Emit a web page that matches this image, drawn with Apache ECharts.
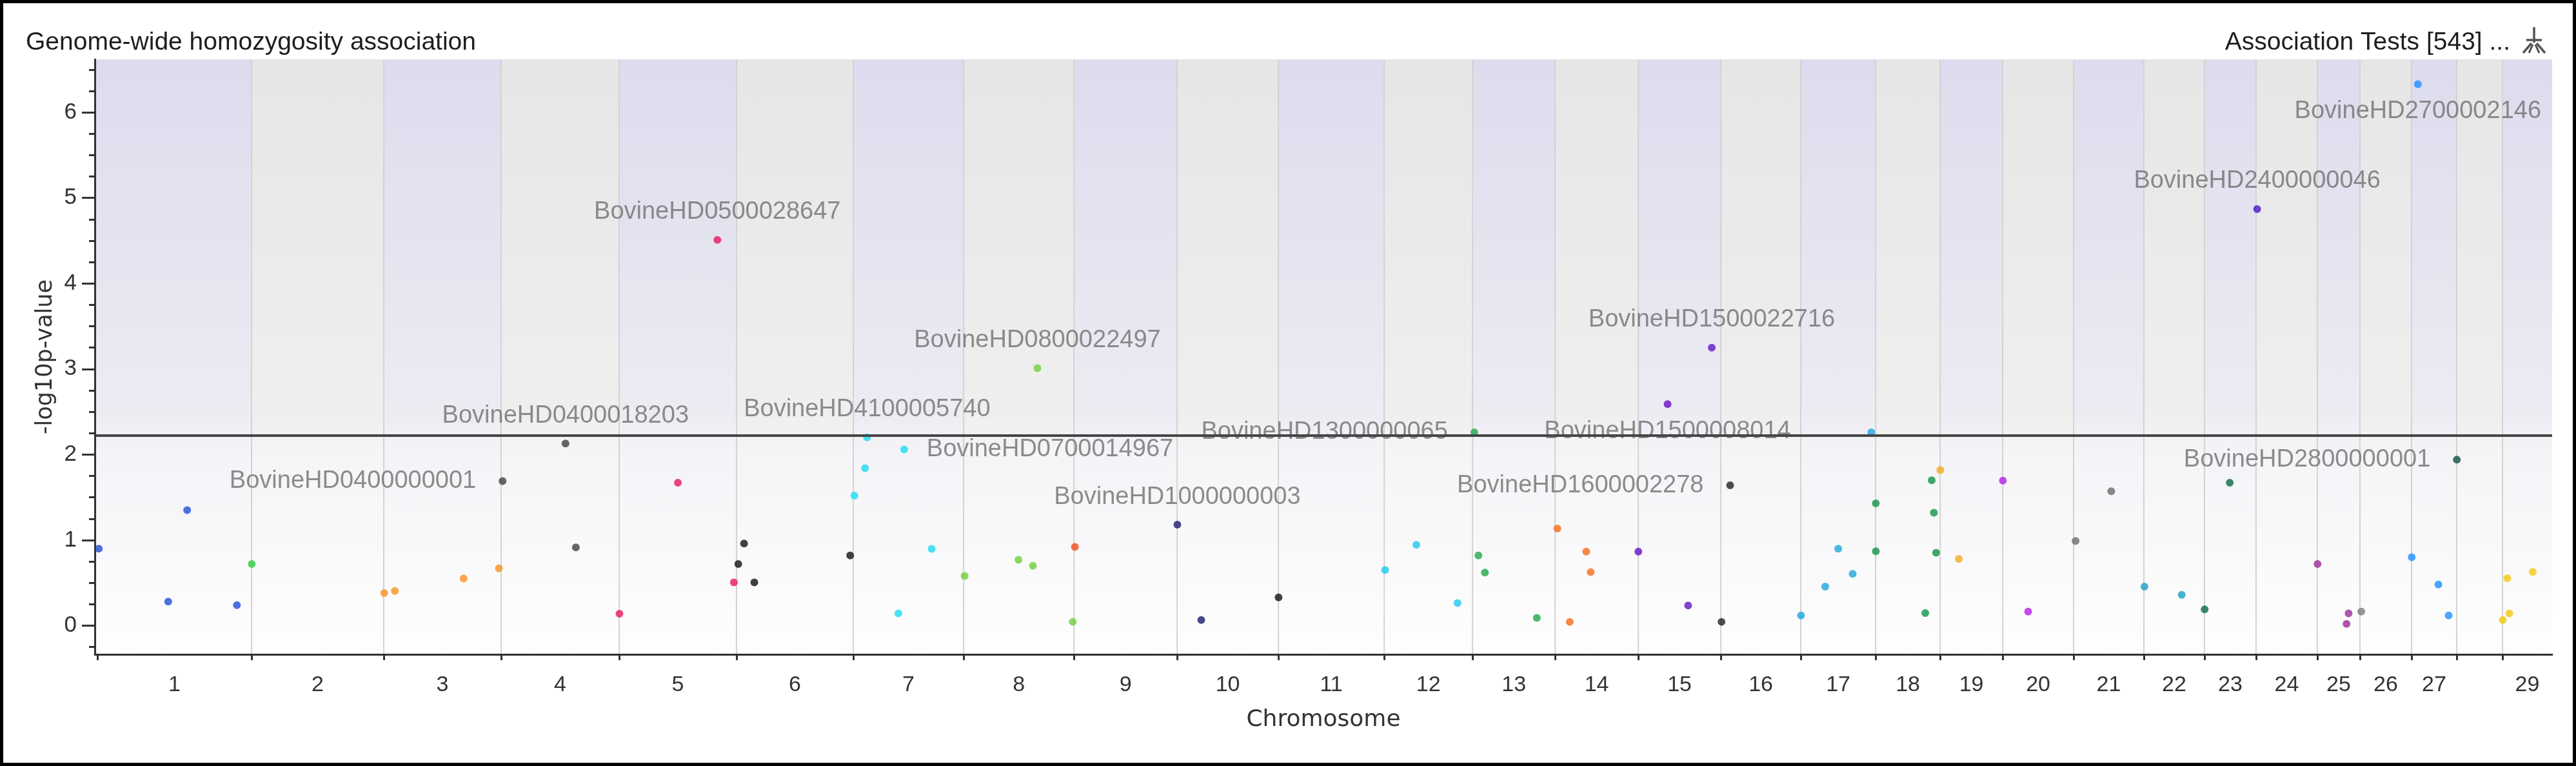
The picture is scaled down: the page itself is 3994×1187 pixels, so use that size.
<!DOCTYPE html>
<html>
<head>
<meta charset="utf-8">
<script src="https://cdn.jsdelivr.net/npm/echarts@6/dist/echarts.min.js"></script>
<style>
html,body{margin:0;padding:0;background:#ffffff;}
#chart{width:3994px;height:1187px;}
</style>
</head>
<body>
<div id="chart"></div>
<script>
// ---------------- DATA ----------------
const chromosomes = ['1','2','3','4','5','6','7','8','9','10','11','12','13','14','15','16','17','18','19','20','21','22','23','24','25','26','27','28','29'];
// chromosome lengths (Mb)
const chromLengthMb = [157.8,135.3,120.1,120.8,120.1,119.5,112.9,112.9,105.6,103.6,108.3,90.4,84.5,85.1,84.5,81.8,76.6,66.0,64.0,72.6,71.9,62.0,52.8,62.7,43.6,52.8,46.2,46.9,50.8];
const hiddenChromLabels = ['28'];

// SNPs: chromosome, position within chromosome (Mb), -log10 p, name ('' = unlabeled)
const snpChrom = [
  1,1,1,1,
  2,
  3,3,3,3,
  4,4,4,
  5,5,5,5,
  6,6,6,6,
  7,7,7,7,7,7,
  8,8,8,8,8,
  9,
  10,10,
  11,
  12,12,12,
  13,13,13,13,
  14,14,14,14,
  15,15,15,15,
  16,16,
  17,17,17,17,17,
  18,18,18,18,18,18,
  19,19,
  20,20,
  21,21,
  22,22,
  23,23,
  24,
  25,25,25,
  26,
  27,27,27,27,
  28,
  29,29,29,29
];
const snpPosMb = [
  1.5,72.5,91.9,142.8,
  0.2,
  0.5,11.4,81.7,117.8,
  1.5,65.9,76.5,
  0.3,60.1,100.5,117.4,
  1.8,7.7,18.2,116.3,
  1.1,12.0,14.1,46.1,52.0,80.2,
  1.0,56.1,70.9,75.5,111.7,
  1.0,
  0.2,24.7,
  0.2,
  0.9,32.9,75.0,
  1.8,6.0,12.7,65.8,
  2.3,15.0,31.8,36.4,
  0.1,30.0,51.0,75.2,
  0.7,9.5,
  0.2,25.0,38.3,53.1,72.1,
  0.2,0.2,50.8,57.4,59.6,61.9,
  0.2,19.1,
  0.2,26.1,
  2.0,38.5,
  0.6,38.7,
  0.2,25.9,
  1.1,
  0.2,29.9,32.0,
  1.4,
  0.2,6.5,27.5,38.0,
  0.2,
  0.3,4.9,7.0,30.9
];
const snpLogP = [
  0.90,0.28,1.35,0.24,
  0.72,
  0.38,0.405,0.55,0.67,
  1.69,2.13,0.915,
  0.14,1.67,4.51,0.506,
  0.72,0.96,0.506,0.82,
  1.52,1.84,2.20,0.143,2.06,0.897,
  0.58,0.77,0.70,3.01,0.044,
  0.92,
  1.18,0.066,
  0.33,
  0.65,0.944,0.264,
  2.26,0.82,0.62,0.09,
  1.135,0.044,0.865,0.625,
  0.865,2.59,0.236,3.25,
  0.044,1.64,
  0.118,0.456,0.90,0.605,2.26,
  1.43,0.87,0.146,1.70,1.32,0.853,
  1.82,0.78,
  1.695,0.163,
  0.99,1.57,
  0.456,0.36,
  0.19,1.67,
  4.87,
  0.72,0.02,0.143,
  0.163,
  0.80,6.33,0.48,0.118,
  1.94,
  0.066,0.555,0.143,0.628
];
const snpName = [
  '','','','',
  '',
  '','','','',
  'BovineHD0400000001','BovineHD0400018203','',
  '','','BovineHD0500028647','',
  '','','','',
  '','','BovineHD4100005740','','BovineHD0700014967','',
  '','','','BovineHD0800022497','',
  '',
  'BovineHD1000000003','',
  '',
  '','','',
  'BovineHD1300000065','','','',
  '','','','',
  '','BovineHD1500008014','','BovineHD1500022716',
  '','BovineHD1600002278',
  '','','','','',
  '','','','','','',
  '','',
  '','',
  '','',
  '','',
  '','',
  'BovineHD2400000046',
  '','','',
  '',
  '','BovineHD2700002146','','',
  'BovineHD2800000001',
  '','','',''
];
const significanceThreshold = 2.22;
const yTickValues = [0,1,2,3,4,5,6];

// ---------------- STYLE ----------------
const chromColors = ['#1f4fd8','#2ecc40','#f7921e','#404040','#e8175d','#111111','#1bdcf0','#6fcf3a','#f04e1a','#1b1b6b',
  '#111111','#21c8ef','#21a84a','#f96a1a','#6512c4','#222222','#1ea5dc','#139448','#f5a81c','#b41ee8',
  '#6a6a6a','#1aa0c6','#0b6b45','#4b14c8','#9b2b95','#7a7a7a','#1e90ff','#0e4f45','#f2c80f'];
const labelPlacement = {
  'BovineHD0500028647':'top','BovineHD0800022497':'top','BovineHD1500022716':'top','BovineHD2400000046':'top',
  'BovineHD0400018203':'top','BovineHD4100005740':'top','BovineHD1000000003':'top',
  'BovineHD2700002146':'bottom','BovineHD1500008014':'bottom',
  'BovineHD0400000001':'left','BovineHD1300000065':'left','BovineHD1600002278':'left','BovineHD2800000001':'left',
  'BovineHD0700014967':'right'
};
const labelDistance = {top:18,bottom:17,left:35,right:29};

// ---------------- BUILD ----------------
const chromStart = [];
let acc = 0;
chromLengthMb.forEach(l => { chromStart.push(acc); acc += l; });
const genomeEnd = acc;
const chromCenter = chromLengthMb.map((l,i) => chromStart[i] + l/2);
const xMin = -2.6;
const yMin = -0.336, yMax = 6.62;

const quarterTicks = [];
for (let v = -0.25; v <= 6.5 + 1e-9; v += 0.25) {
  const r = Math.round(v*100)/100;
  if (Math.abs(r - Math.round(r)) > 1e-6) quarterTicks.push(r);
}

const bandData = chromLengthMb.map((l,i) => [i === 0 ? xMin : chromStart[i], chromStart[i] + l, i]);

const pointData = snpChrom.map((c,k) => {
  const i = c - 1;
  const name = snpName[k];
  const item = {
    value: [chromStart[i] + snpPosMb[k], snpLogP[k]],
    itemStyle: {color: chromColors[i]}
  };
  if (name) {
    const pos = labelPlacement[name] || 'top';
    item.label = {show: true, position: pos, distance: labelDistance[pos], formatter: name};
  }
  return item;
});

const FONT = "'Liberation Sans', Arial, sans-serif";
const FONT2 = "'DejaVu Sans', Verdana, sans-serif";

const chart = echarts.init(document.getElementById('chart'), null, {renderer: 'canvas'});
chart.setOption({
  animation: false,
  backgroundColor: '#ffffff',
  title: [
    {text: 'Genome-wide homozygosity association', left: 40, top: 47, padding: 0,
      textStyle: {fontFamily: FONT, fontSize: 39, fontWeight: 'normal', color: '#1e1e1e'}},
    {text: 'Association Tests [543] ...', right: 102, top: 47, padding: 0,
      textStyle: {fontFamily: FONT, fontSize: 39, fontWeight: 'normal', color: '#1e1e1e'}}
  ],
  grid: {left: 147, right: 37, top: 92, bottom: 173, containLabel: false},
  xAxis: {
    type: 'value', min: xMin, max: genomeEnd, z: 10,
    name: 'Chromosome', nameLocation: 'middle', nameGap: 84,
    nameTextStyle: {fontFamily: FONT2, fontSize: 36, color: '#333333'},
    axisLine: {show: true, onZero: false, lineStyle: {color: '#333333', width: 3}},
    axisTick: {show: true, customValues: chromStart, length: 9, lineStyle: {color: '#333333', width: 3}},
    axisLabel: {
      show: true, customValues: chromCenter, margin: 31,
      fontFamily: FONT, fontSize: 34, color: '#333333',
      formatter: function (v) {
        let best = 0, bd = Infinity;
        chromCenter.forEach((c,i) => { const d = Math.abs(c - v); if (d < bd) { bd = d; best = i; } });
        const n = chromosomes[best];
        return hiddenChromLabels.indexOf(n) >= 0 ? '' : n;
      }
    },
    splitLine: {show: false}
  },
  yAxis: [
    {
      type: 'value', min: yMin, max: yMax, z: 10,
      axisLine: {show: true, onZero: false, lineStyle: {color: '#333333', width: 3}},
      axisTick: {show: true, customValues: quarterTicks, length: 9, lineStyle: {color: '#333333', width: 3}},
      axisLabel: {show: false},
      splitLine: {show: false}
    },
    {
      type: 'value', min: yMin, max: yMax, position: 'left', offset: 0, z: 10,
      name: '-log10p-value', nameLocation: 'middle', nameGap: 52, nameRotate: 90,
      nameTextStyle: {fontFamily: FONT2, fontSize: 35, color: '#333333'},
      axisLine: {show: false, onZero: false},
      axisTick: {show: true, customValues: yTickValues, length: 20, lineStyle: {color: '#333333', width: 3}},
      axisLabel: {show: true, customValues: yTickValues, margin: 28, fontFamily: FONT, fontSize: 35, color: '#333333'},
      splitLine: {show: false}
    }
  ],
  series: [
    {
      type: 'custom', name: 'bands', silent: true, z: 1,
      xAxisIndex: 0, yAxisIndex: 0,
      data: bandData,
      renderItem: function (params, api) {
        const s = api.value(0), e = api.value(1), i = api.value(2);
        const p0 = api.coord([s, yMax]);
        const p1 = api.coord([e, yMin]);
        const odd = (i % 2 === 0);
        const fill = new echarts.graphic.LinearGradient(0, 0, 0, 1, odd ? [
          {offset: 0, color: '#dcdcee'}, {offset: 0.6, color: '#ececf3'}, {offset: 0.66, color: '#f4f4f8'}, {offset: 1, color: '#fefefe'}
        ] : [
          {offset: 0, color: '#e6e6e6'}, {offset: 0.6, color: '#efefef'}, {offset: 0.66, color: '#f5f5f5'}, {offset: 1, color: '#fefefe'}
        ]);
        const children = [{
          type: 'rect',
          shape: {x: p0[0], y: p0[1], width: p1[0] - p0[0], height: p1[1] - p0[1]},
          style: {fill: fill}
        }];
        if (i > 0) {
          children.push({
            type: 'line',
            shape: {x1: p0[0], y1: p0[1], x2: p0[0], y2: p1[1]},
            style: {stroke: '#d3d3d3', lineWidth: 2}
          });
        }
        return {type: 'group', children: children};
      }
    },
    {
      type: 'scatter', name: 'SNPs', z: 3,
      xAxisIndex: 0, yAxisIndex: 0,
      symbol: 'circle', symbolSize: 12,
      data: pointData,
      label: {show: false, fontFamily: FONT, fontSize: 38, color: '#707070'},
      labelLayout: {hideOverlap: false},
      emphasis: {disabled: true},
      markLine: {
        silent: true, symbol: ['none','none'],
        label: {show: false},
        lineStyle: {color: '#454545', width: 4, type: 'solid'},
        data: [{yAxis: significanceThreshold}]
      }
    }
  ],
  graphic: [
    {type: 'rect', shape: {x: 2.5, y: 2.5, width: 3989, height: 1182}, style: {fill: 'none', stroke: '#000000', lineWidth: 5}, z: 100},
    {type: 'group', z: 100, children: [
      {type: 'line', shape: {x1: 3929, y1: 42, x2: 3929, y2: 66}, style: {stroke: '#555555', lineWidth: 3.5}},
      {type: 'line', shape: {x1: 3917, y1: 62, x2: 3941, y2: 62}, style: {stroke: '#555555', lineWidth: 3.5}},
      {type: 'line', shape: {x1: 3925, y1: 67, x2: 3912, y2: 82}, style: {stroke: '#555555', lineWidth: 3.5}},
      {type: 'line', shape: {x1: 3933, y1: 67, x2: 3946, y2: 82}, style: {stroke: '#555555', lineWidth: 3.5}},
      {type: 'line', shape: {x1: 3927, y1: 69, x2: 3921, y2: 82}, style: {stroke: '#555555', lineWidth: 3}},
      {type: 'line', shape: {x1: 3931, y1: 69, x2: 3937, y2: 82}, style: {stroke: '#555555', lineWidth: 3}}
    ]}
  ]
});
</script>
</body>
</html>
